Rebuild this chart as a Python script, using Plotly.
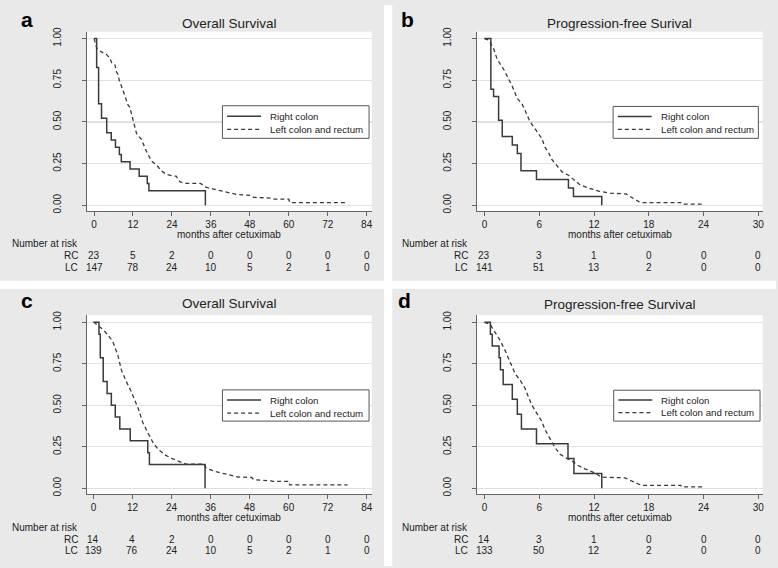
import plotly.graph_objects as go

# ---------------- data ----------------
# Panel a: Overall survival (all patients)
a_rc_t = [0, 0.8, 1.4, 2.3, 3.9, 5.3, 6.6, 7.8, 8.4, 11.1, 13.9, 16.4, 16.9, 34.3]
a_rc_s = [1, 0.826, 0.609, 0.522, 0.435, 0.391, 0.348, 0.304, 0.261, 0.217, 0.174, 0.130, 0.087, 0]
a_lc_t = [0, 0.8, 1.8, 3.8, 4.8, 5.4, 6.4, 6.9, 7.4, 7.9, 8.4, 9.5, 10.5, 11.0, 12.0, 13.1, 14.6,
          16.1, 17.7, 19.3, 20.8, 22.3, 24.4, 25.3, 26.5, 28.5, 32.8, 34.2, 35.0, 37.7, 39.6, 40.8,
          43.8, 48.2, 49.2, 54.5, 55.5, 60.0, 60.3, 78.0]
a_lc_s = [1, 0.945, 0.925, 0.905, 0.885, 0.856, 0.846, 0.80, 0.785, 0.738, 0.717, 0.658, 0.60, 0.589,
          0.52, 0.43, 0.395, 0.325, 0.265, 0.24, 0.205, 0.185, 0.175, 0.174, 0.14, 0.131, 0.131, 0.11,
          0.105, 0.092, 0.085, 0.075, 0.065, 0.059, 0.047, 0.043, 0.036, 0.036, 0.016, 0.016]

# Panel b: Progression-free survival (all patients)
b_rc_t = [0, 0.7, 1.0, 1.55, 1.95, 3.05, 3.6, 4.0, 5.7, 9.2, 9.75, 12.85]
b_rc_s = [1, 0.696, 0.652, 0.51, 0.413, 0.362, 0.31, 0.207, 0.155, 0.103, 0.052, 0]
b_lc_t = [0, 0.5, 1.0, 1.4, 2.1, 2.7, 3.0, 3.6, 4.1, 4.6, 5.0, 5.4, 5.9, 6.3, 6.6, 7.0, 7.3, 7.9,
          8.5, 9.2, 9.7, 10.4, 11.3, 12.5, 13.8, 15.5, 16.3, 17.1, 21.5, 21.6, 24.0]
b_lc_s = [1, 0.99, 0.94, 0.875, 0.816, 0.757, 0.72, 0.64, 0.61, 0.55, 0.50, 0.47, 0.43, 0.40, 0.35,
          0.32, 0.28, 0.24, 0.20, 0.18, 0.155, 0.125, 0.105, 0.085, 0.072, 0.068, 0.04, 0.016,
          0.016, 0.007, 0.007]

# Panel c: Overall survival (subgroup)
c_rc_t = [0, 1.7, 2.1, 3.0, 4.2, 5.5, 6.7, 8.1, 11.3, 16.7, 17.2, 34.3]
c_rc_s = [1, 0.929, 0.786, 0.643, 0.571, 0.5, 0.429, 0.357, 0.286, 0.214, 0.143, 0]
c_lc_t = [0, 0.2, 1.4, 3.0, 5.0, 6.0, 7.5, 8.6, 10.1, 11.6, 13.7, 15.2, 16.7, 18.3, 19.8, 21.9,
          24.4, 27.5, 28.5, 34.1, 34.6, 37.7, 41.3, 44.3, 48.6, 49.3, 54.6, 55.2, 60.0, 60.3, 78.1]
c_lc_s = [1, 1, 0.98, 0.956, 0.91, 0.881, 0.802, 0.712, 0.643, 0.583, 0.484, 0.395, 0.335, 0.276,
          0.236, 0.202, 0.177, 0.152, 0.145, 0.145, 0.121, 0.10, 0.08, 0.068, 0.065, 0.052, 0.045,
          0.042, 0.042, 0.02, 0.02]

# Panel d: Progression-free survival (subgroup)
d_rc_t = [0, 0.65, 0.85, 1.6, 1.75, 2.05, 3.05, 3.6, 4.05, 5.7, 9.15, 9.8, 12.85]
d_rc_s = [1, 0.929, 0.857, 0.786, 0.714, 0.625, 0.536, 0.446, 0.357, 0.268, 0.179, 0.089, 0]
d_lc_t = [0, 0.6, 1.16, 1.71, 2.26, 2.8, 3.35, 3.89, 4.44, 4.8, 5.17, 5.71, 6.26, 6.62, 7.17, 7.72,
          8.26, 8.81, 9.54, 10.27, 10.99, 12.09, 12.8, 15.4, 16.1, 17.2, 21.5, 21.6, 23.9]
d_lc_s = [1, 0.99, 0.94, 0.891, 0.831, 0.762, 0.692, 0.653, 0.603, 0.553, 0.504, 0.454, 0.405,
          0.355, 0.296, 0.246, 0.206, 0.186, 0.167, 0.137, 0.117, 0.093, 0.067, 0.063, 0.044,
          0.018, 0.018, 0.008, 0.008]

os_ticks = [0, 12, 24, 36, 48, 60, 72, 84]
pfs_ticks = [0, 6, 12, 18, 24, 30]
y_ticks = [0, 0.25, 0.5, 0.75, 1.0]

a_risk_rc = [23, 5, 2, 0, 0, 0, 0, 0]
a_risk_lc = [147, 78, 24, 10, 5, 2, 1, 0]
b_risk_rc = [23, 3, 1, 0, 0, 0]
b_risk_lc = [141, 51, 13, 2, 0, 0]
c_risk_rc = [14, 4, 2, 0, 0, 0, 0, 0]
c_risk_lc = [139, 76, 24, 10, 5, 2, 1, 0]
d_risk_rc = [14, 3, 1, 0, 0, 0]
d_risk_lc = [133, 50, 12, 2, 0, 0]

titles = ["Overall Survival", "Progression-free Surival", "Overall Survival", "Progression-free Survival"]
letters = ["a", "b", "c", "d"]
series_names = ["Right colon", "Left colon and rectum"]
xlabel = "months after cetuximab"

# ---------------- layout helpers ----------------
W, H = 778, 568
FONT = "Liberation Sans, Arial, sans-serif"
TXT = "#222222"
LINE = "#3a3a3a"
AX = "#666666"
GRID = "#e6dfdf"
DASH = "4px,3px"


def px(x):
    return x / W


def py(y):
    return 1 - y / H


panels = [
    dict(dom_x=(87.3, 372.7), dom_y=(27, 209), xr=(-2.15, 85.56), yr=(-0.0373, 1.0415),
         ticks=os_ticks, rc=(a_rc_t, a_rc_s), lc=(a_lc_t, a_lc_s), risk=(a_risk_rc, a_risk_lc),
         leg=(223, 102, 370, 135), leg_rows=(112.7, 126), title_y=18.5, letter=(27, 15),
         lab_right=80, rows=(241.8, 253.8, 265.3), xtitle_y=232.6),
    dict(dom_x=(478, 764.7), dom_y=(27, 209), xr=(-0.841, 30.48), yr=(-0.0373, 1.0415),
         ticks=pfs_ticks, rc=(b_rc_t, b_rc_s), lc=(b_lc_t, b_lc_s), risk=(b_risk_rc, b_risk_lc),
         leg=(614.7, 102.7, 760.3, 135), leg_rows=(113, 126), title_y=18.5, letter=(409, 14.5),
         lab_right=471, rows=(241.8, 253.8, 265.3), xtitle_y=232.6),
    dict(dom_x=(87.3, 372.7), dom_y=(314, 495.3), xr=(-1.96, 85.53), yr=(-0.0357, 1.0435),
         ticks=os_ticks, rc=(c_rc_t, c_rc_s), lc=(c_lc_t, c_lc_s), risk=(c_risk_rc, c_risk_lc),
         leg=(223, 389.7, 370, 421.3), leg_rows=(400, 413.3), title_y=302.5, letter=(27, 299),
         lab_right=80, rows=(529.5, 541.5, 552.5), xtitle_y=518.6),
    dict(dom_x=(478, 764.7), dom_y=(314, 495.3), xr=(-0.841, 30.48), yr=(-0.0357, 1.0435),
         ticks=pfs_ticks, rc=(d_rc_t, d_rc_s), lc=(d_lc_t, d_lc_s), risk=(d_risk_rc, d_risk_lc),
         leg=(615.3, 390, 762, 421.3), leg_rows=(400, 412.8), title_y=303.5, letter=(405.5, 299),
         lab_right=471, rows=(529.5, 541.5, 552.5), xtitle_y=518.6),
]

fig = go.Figure()
layout = dict(
    width=W, height=H, margin=dict(l=0, r=0, t=0, b=0),
    paper_bgcolor="#e9e9e9", plot_bgcolor="white", showlegend=False,
    font=dict(family=FONT, size=10, color=TXT),
    annotations=[], shapes=[],
)

# white gutters between panels
layout["shapes"].append(dict(type="rect", xref="paper", yref="paper", x0=px(385), x1=px(393.3),
                             y0=0, y1=1, fillcolor="white", line_width=0, layer="below"))
layout["shapes"].append(dict(type="rect", xref="paper", yref="paper", x0=0, x1=1,
                             y0=py(287.3), y1=py(279.3), fillcolor="white", line_width=0, layer="below"))

for i, p in enumerate(panels):
    n = "" if i == 0 else str(i + 1)
    xa, ya = "x" + n, "y" + n
    fig.add_trace(go.Scatter(x=p["rc"][0], y=p["rc"][1], mode="lines", line_shape="hv",
                             line=dict(color=LINE, width=1.5), name=series_names[0],
                             xaxis=xa, yaxis=ya, hoverinfo="skip"))
    fig.add_trace(go.Scatter(x=p["lc"][0], y=p["lc"][1], mode="lines", line_shape="linear",
                             line=dict(color=LINE, width=1.3, dash=DASH), name=series_names[1],
                             xaxis=xa, yaxis=ya, hoverinfo="skip"))

    layout["xaxis" + n] = dict(
        domain=[px(p["dom_x"][0]), px(p["dom_x"][1])], anchor=ya, range=list(p["xr"]),
        tickvals=p["ticks"], ticks="outside", ticklen=4, tickcolor=AX, showline=True,
        linecolor=AX, linewidth=1, showgrid=False, zeroline=False,
        tickfont=dict(size=10, color=TXT),
    )
    layout["yaxis" + n] = dict(
        domain=[py(p["dom_y"][1]), py(p["dom_y"][0])], anchor=xa, range=list(p["yr"]),
        tickvals=y_ticks, tickformat=".2f", ticks="outside", ticklen=4, tickcolor=AX,
        showline=True, linecolor=AX, linewidth=1, showgrid=True, gridcolor=GRID, gridwidth=1.3,
        zeroline=False, tickangle=-90, tickfont=dict(size=10, color=TXT), ticklabelstandoff=17,
    )

    # legend box (framed key inside the plot)
    lx0, ly0, lx1, ly1 = p["leg"]
    layout["shapes"].append(dict(type="rect", xref="paper", yref="paper", x0=px(lx0), x1=px(lx1),
                                 y0=py(ly1), y1=py(ly0), fillcolor="white",
                                 line=dict(color="#555555", width=1), layer="above"))
    for k, ry in enumerate(p["leg_rows"]):
        layout["shapes"].append(dict(type="line", xref="paper", yref="paper",
                                     x0=px(lx0 + 4.7), x1=px(lx0 + 38.7), y0=py(ry), y1=py(ry),
                                     line=dict(color=LINE, width=1.5 if k == 0 else 1.3,
                                               dash="solid" if k == 0 else DASH),
                                     layer="above"))
        layout["annotations"].append(dict(text=series_names[k], x=px(lx0 + 45.5), y=py(ry),
                                          xref="paper", yref="paper", showarrow=False,
                                          xanchor="left", yanchor="middle",
                                          font=dict(size=9.7, color=TXT)))

    xc = (p["dom_x"][0] + p["dom_x"][1]) / 2
    layout["annotations"].append(dict(text=titles[i], x=px(xc), y=py(p["title_y"]), xref="paper",
                                      yref="paper", showarrow=False, xanchor="center",
                                      yanchor="middle", font=dict(size=13.5, color=TXT)))
    layout["annotations"].append(dict(text=xlabel, x=sum(p["xr"]) / 2, y=py(p["xtitle_y"]),
                                      xref=xa, yref="paper", showarrow=False, xanchor="center",
                                      yanchor="middle", font=dict(size=10, color=TXT)))
    layout["annotations"].append(dict(text="<b>" + letters[i] + "</b>", x=px(p["letter"][0]),
                                      y=py(p["letter"][1]), xref="paper", yref="paper",
                                      showarrow=False, xanchor="center", yanchor="middle",
                                      font=dict(size=21, color="black")))
    r0, r1, r2 = p["rows"]
    for txt, yy in (("Number at risk", r0), ("RC", r1), ("LC", r2)):
        layout["annotations"].append(dict(text=txt, x=px(p["lab_right"]), y=py(yy), xref="paper",
                                          yref="paper", showarrow=False, xanchor="right",
                                          yanchor="middle", font=dict(size=10, color=TXT)))
    for vals, yy in ((p["risk"][0], r1), (p["risk"][1], r2)):
        for t, v in zip(p["ticks"], vals):
            layout["annotations"].append(dict(text=str(v), x=t, y=py(yy), xref=xa, yref="paper",
                                              showarrow=False, xanchor="center", yanchor="middle",
                                              font=dict(size=10, color=TXT)))

fig.update_layout(**layout)
fig.write_html(
    "out.html",
    config={"displayModeBar": False, "staticPlot": True},
    post_script="document.documentElement.style.margin='0';document.body.style.margin='0';"
                "document.body.style.overflow='hidden';",
)
